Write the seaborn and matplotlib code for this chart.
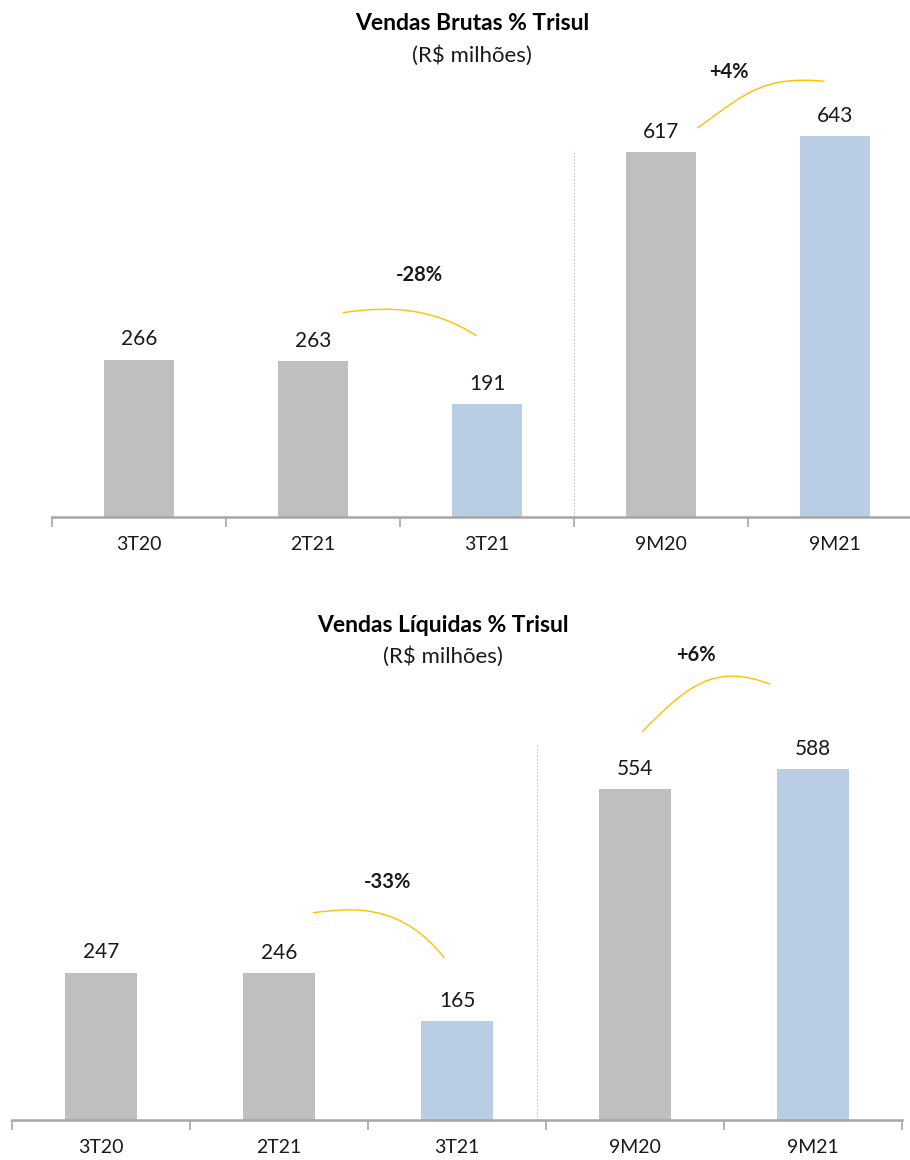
import matplotlib
matplotlib.use("Agg")
import matplotlib.pyplot as plt
import seaborn as sns
import numpy as np
import pandas as pd
from matplotlib.path import Path
from matplotlib.patches import PathPatch

# ---- data ----
categories = ["3T20", "2T21", "3T21", "9M20", "9M21"]
brutas = [266, 263, 191, 617, 643]
liquidas = [247, 246, 165, 554, 588]
bar_colors = ["#BFBFBF", "#BFBFBF", "#B9CDE5", "#BFBFBF", "#B9CDE5"]
title_top = "Vendas Brutas % Trisul"
title_bot = "Vendas Líquidas % Trisul"
subtitle = "(R$ milhões)"
growth_top = ["-28%", "+4%"]
growth_bot = ["-33%", "+6%"]

sns.set_theme(style="white")
plt.rcParams['font.family'] = ['Lato', 'DejaVu Sans']

W, H = 910, 1160
fig = plt.figure(figsize=(W / 100, H / 100), dpi=100)


def px_axes(left, right, top, bottom):
    return fig.add_axes([left / W, 1 - bottom / H, (right - left) / W, (bottom - top) / H])


def draw_panel(ax, values, ymax, dash_x, dash_top, arcs, labels):
    df = pd.DataFrame({"cat": categories, "val": values})
    sns.barplot(data=df, x="cat", y="val", hue="cat", palette=bar_colors,
                legend=False, width=0.4, ax=ax, saturation=1, linewidth=0)
    ax.set_xlim(-0.5, len(categories) - 0.5)
    ax.set_ylim(0, ymax)
    for s in ["top", "right", "left"]:
        ax.spines[s].set_visible(False)
    ax.spines["bottom"].set_color("#A6A6A6")
    ax.spines["bottom"].set_linewidth(1.8)
    ax.set_yticks([])
    ax.set_xlabel("")
    ax.set_ylabel("")
    ax.set_xticks(np.arange(-0.5, len(categories)), minor=False)
    ax.set_xticklabels([""] * (len(categories) + 1))
    ax.set_xticks(np.arange(len(categories)), minor=True)
    ax.set_xticklabels(categories, minor=True, fontsize=14, color="#1a1a1a")
    ax.tick_params(axis="x", which="major", direction="out", length=7,
                   width=1.2, color="#A6A6A6", bottom=True)
    ax.tick_params(axis="x", which="minor", length=0, pad=14, bottom=True)
    for i, v in enumerate(values):
        ax.annotate(f"{v}", (i, v), xytext=(0, 14.5), textcoords="offset points",
                    ha="center", va="center", fontsize=15, color="#1a1a1a")
    ax.plot([dash_x, dash_x], [0, dash_top], ls=(0, (2, 2)), lw=0.6, color="#BBBBBB")
    for (p0, p1, p2, p3), (lab, lx, ly) in zip(arcs, labels):
        path = Path([p0, p1, p2, p3], [Path.MOVETO, Path.CURVE4, Path.CURVE4, Path.CURVE4])
        ax.add_patch(PathPatch(path, fc="none", ec="#FFC000", lw=1.0))
        ax.text(lx, ly, lab, ha="center", va="center", fontsize=14.5,
                fontweight="bold", color="#1a1a1a")


# top panel
ax1 = px_axes(52, 52 + 174 * 5, 0, 517)
arcs_top = [
    ((1.17, 345), (1.45, 358), (1.7, 352), (1.94, 306)),
    ((3.21, 657), (3.5, 720), (3.6, 745), (3.94, 736)),
]
labels_top = [(growth_top[0], 1.61, 409), (growth_top[1], 3.39, 752)]
draw_panel(ax1, brutas, 517 / 0.592, 2.5, 620, arcs_top, labels_top)

# bottom panel
ax2 = px_axes(12, 12 + 178 * 5, 600, 1120)
arcs_bot = [
    ((1.19, 347), (1.45, 358), (1.7, 358), (1.93, 271)),
    ((3.04, 650), (3.3, 730), (3.45, 765), (3.76, 730)),
]
labels_bot = [(growth_bot[0], 1.61, 399), (growth_bot[1], 3.34, 779)]
draw_panel(ax2, liquidas, 520 / 0.597, 2.45, 628, arcs_bot, labels_bot)

# titles
fig.text(472 / W, 1 - 24 / H, title_top, ha="center", va="center", fontsize=16.5,
         fontweight="bold", color="#000000")
fig.text(472 / W, 1 - 56 / H, subtitle, ha="center", va="center", fontsize=16,
         color="#1a1a1a")
fig.text(443 / W, 1 - 625 / H, title_bot, ha="center", va="center", fontsize=16.5,
         fontweight="bold", color="#000000")
fig.text(443 / W, 1 - 657 / H, subtitle, ha="center", va="center", fontsize=16,
         color="#1a1a1a")

fig.savefig("out.png", dpi=100, facecolor="white")
